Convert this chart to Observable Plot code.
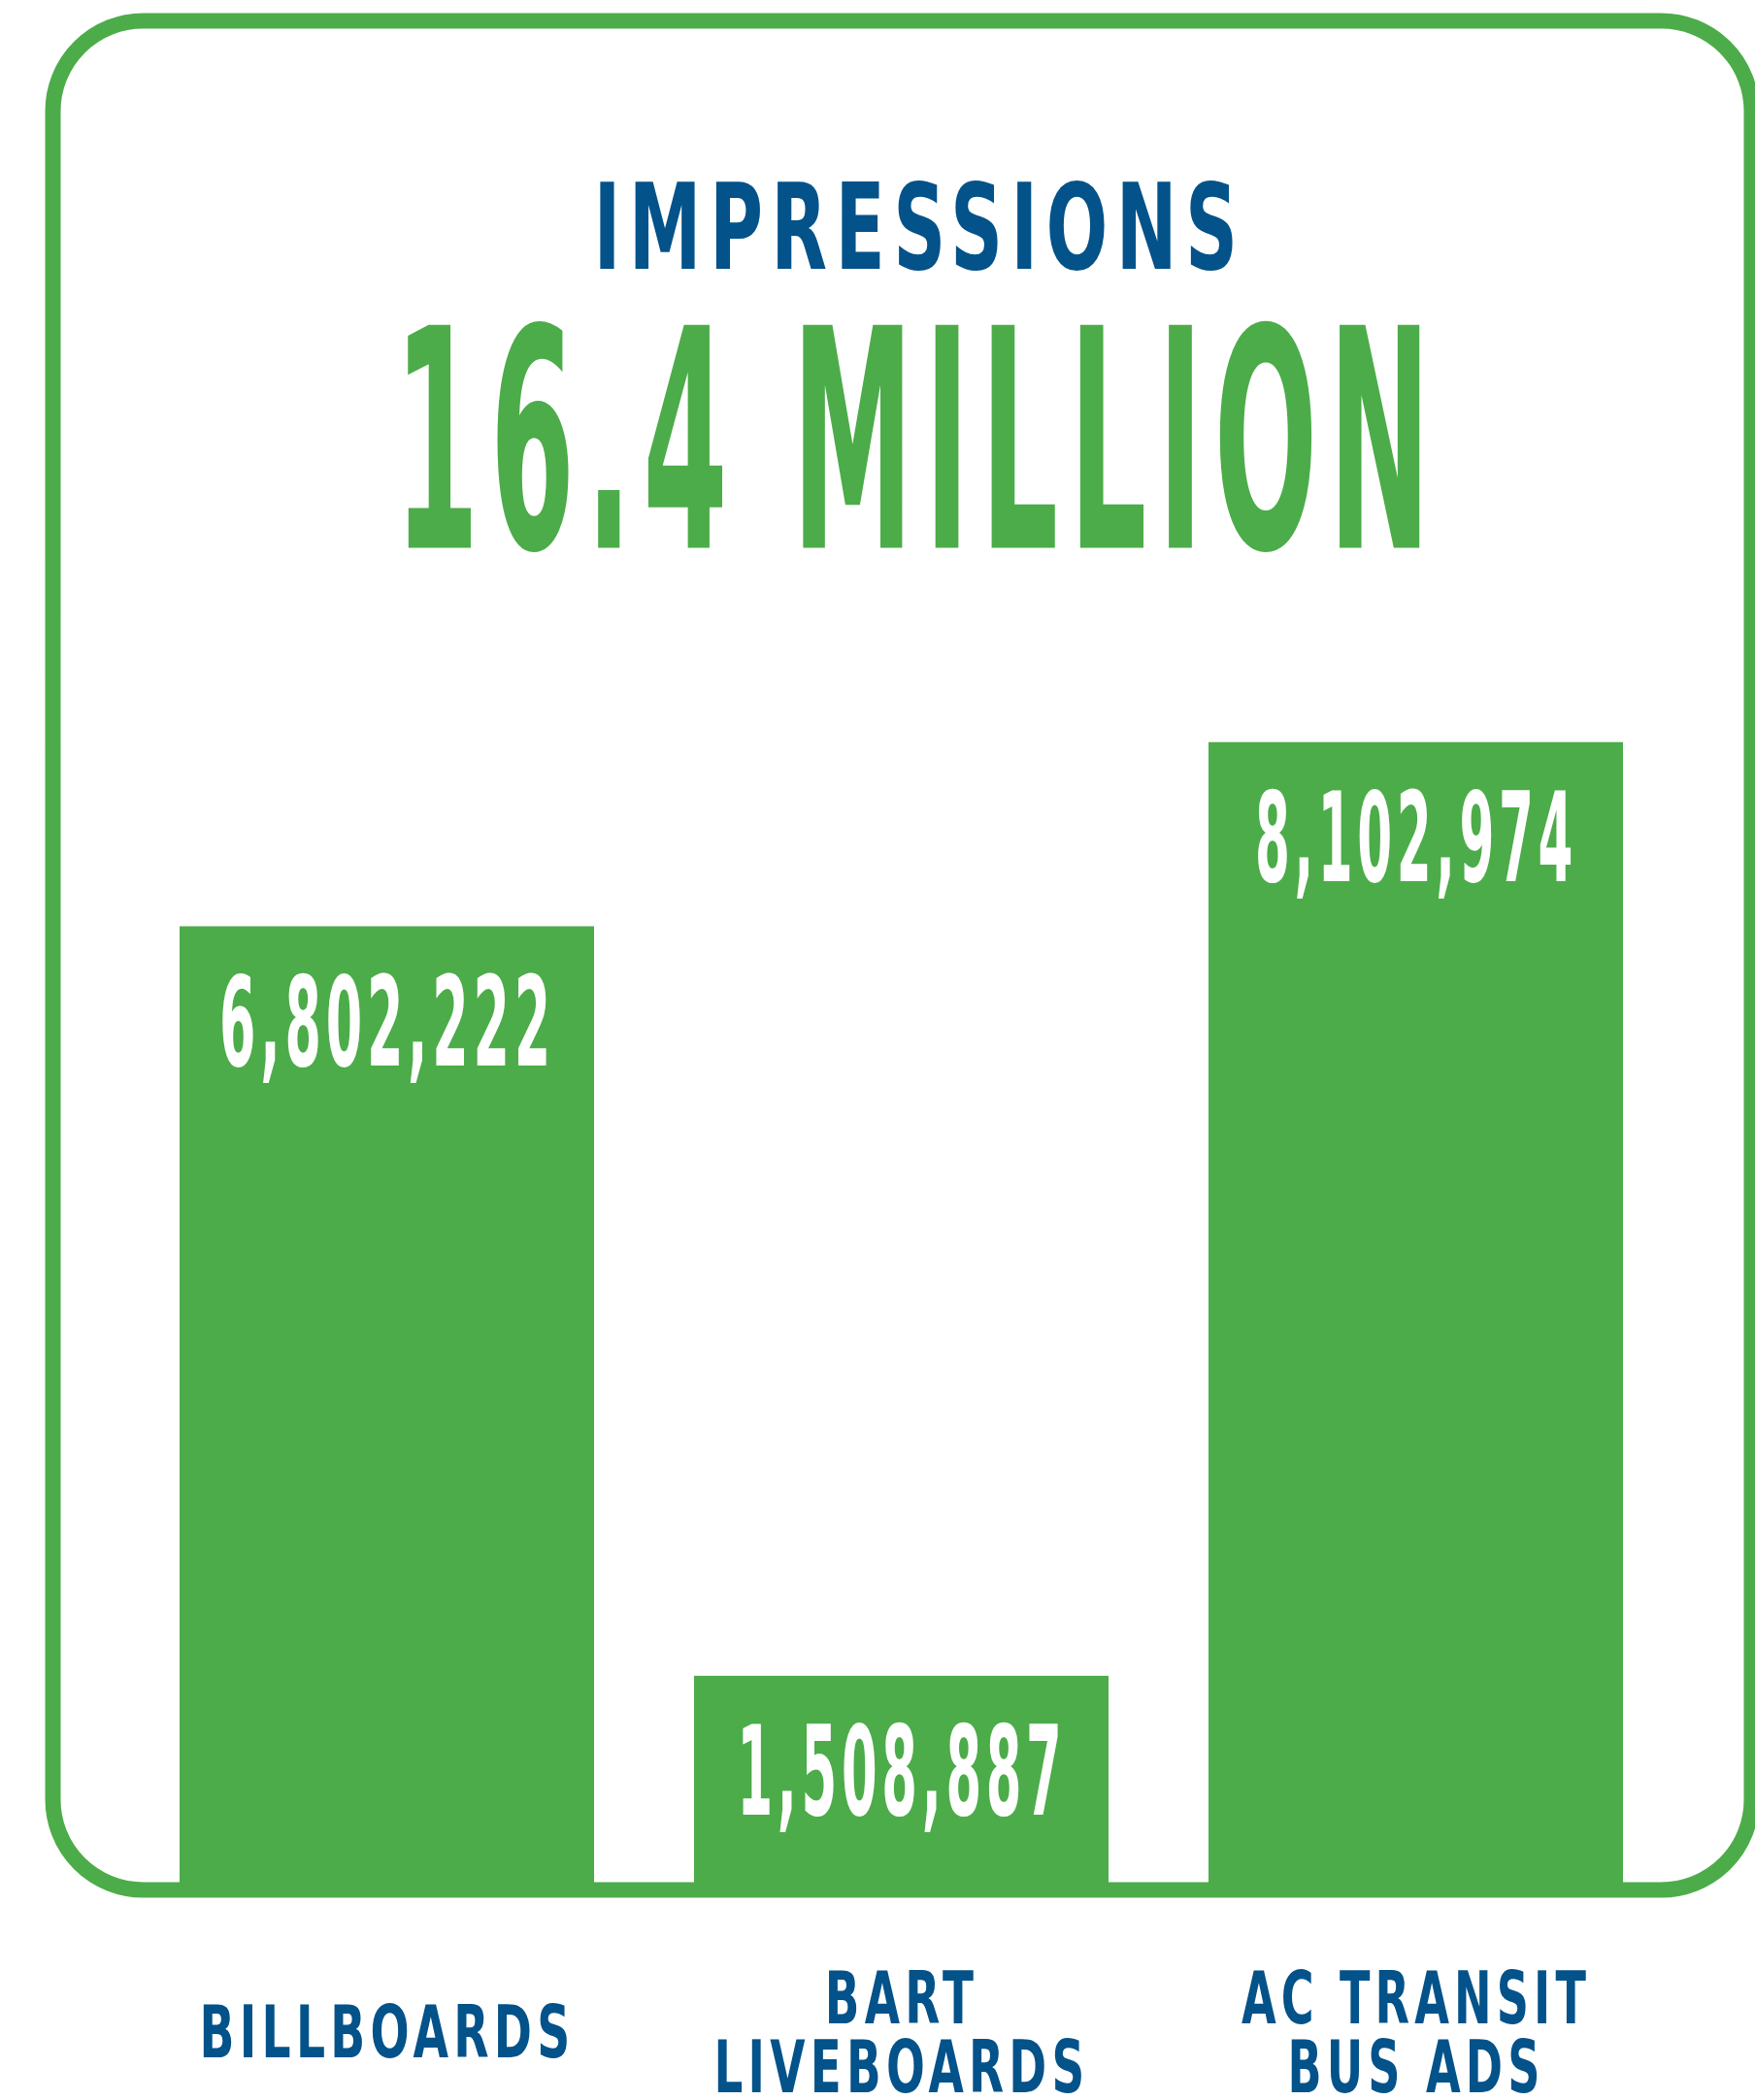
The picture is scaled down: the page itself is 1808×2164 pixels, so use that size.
<!DOCTYPE html>
<html>
<head>
<meta charset="utf-8">
<script src="https://cdn.jsdelivr.net/npm/d3@7"></script>
<script src="https://cdn.jsdelivr.net/npm/@observablehq/plot@0.6"></script>
<style>
  html, body { margin: 0; padding: 0; background: #ffffff; }
  #chart svg { display: block; }
  #err { position: absolute; left: 100px; top: 600px; color: red; font: 30px sans-serif; margin: 0; }
</style>
</head>
<body>
<div id="chart"></div>
<pre id="err"></pre>
<script>
// ---- data ----
const categories = ["Billboards", "BART Liveboards", "AC Transit Bus Ads"];
const categoryLabels = ["BILLBOARDS", "BART\nLIVEBOARDS", "AC TRANSIT\nBUS ADS"];
const impressions = [6802222, 1508887, 8102974];
const titleText = "IMPRESSIONS";
const totalText = "16.4 MILLION";

// ---- style ----
const green = "#4cac49";
const blue = "#03528a";
const font = '"DejaVu Sans Condensed", "DejaVu Sans", sans-serif';

const rows = categories.map((c, i) => ({category: c, label: categoryLabels[i], value: impressions[i]}));
const fmt = d3.format(",");

const plot = Plot.plot({
  width: 1808,
  height: 2164,
  marginTop: 21,
  marginRight: 4,
  marginBottom: 217,
  marginLeft: 54,
  style: {fontFamily: font, background: "#ffffff", overflow: "visible"},
  x: {domain: categories, paddingInner: 0.194, paddingOuter: 0.245, axis: null},
  y: {domain: [0, 13200000], axis: null},
  marks: [
    Plot.barY(rows, {x: "category", y: "value", fill: green}),
    Plot.frame({stroke: green, strokeWidth: 16, rx: 93, ry: 93}),
    Plot.text(rows, {x: "category", y: "value", text: d => fmt(d.value), fill: "#ffffff",
      fontSize: 128, fontWeight: "bold", lineAnchor: "top", dy: 52}),
    Plot.text(rows, {x: "category", text: "label", frameAnchor: "bottom", lineAnchor: "middle",
      dy: 150, fill: blue, fontSize: 75, fontWeight: "bold", lineHeight: 0.95}),
    Plot.text([titleText], {text: d => d, frameAnchor: "top", lineAnchor: "bottom", dy: 255, dx: 18,
      fill: blue, fontSize: 123, fontWeight: "bold"}),
    Plot.text([totalText], {text: d => d, frameAnchor: "top", lineAnchor: "bottom", dy: 543, dx: 16,
      fill: green, fontSize: 315, fontWeight: "bold"})
  ]
});

document.getElementById("chart").appendChild(plot);

// horizontal condensing of the display type to match the narrow face of the original
try {
  const texts = Array.from(plot.querySelectorAll("text"));
  const widths = [346, 339, 332, 387, 387, 360, 672, 1079];
  const spacing = ["0.08em", "0.08em", "0.08em", "0.1em", "0.1em", "0.1em", "0.1em", "0.08em"];
  texts.forEach((t, i) => {
    if (i >= widths.length) return;
    t.style.letterSpacing = spacing[i];
    const w = t.getBBox().width;
    if (!w) return;
    const tr = t.getAttribute("transform") || "";
    t.setAttribute("transform", `${tr} scale(${(widths[i] / w).toFixed(4)},1)`);
  });
  if (texts.length !== widths.length) document.getElementById("err").textContent = "texts: " + texts.length;
} catch (e) {
  document.getElementById("err").textContent = String(e);
}
</script>
</body>
</html>
